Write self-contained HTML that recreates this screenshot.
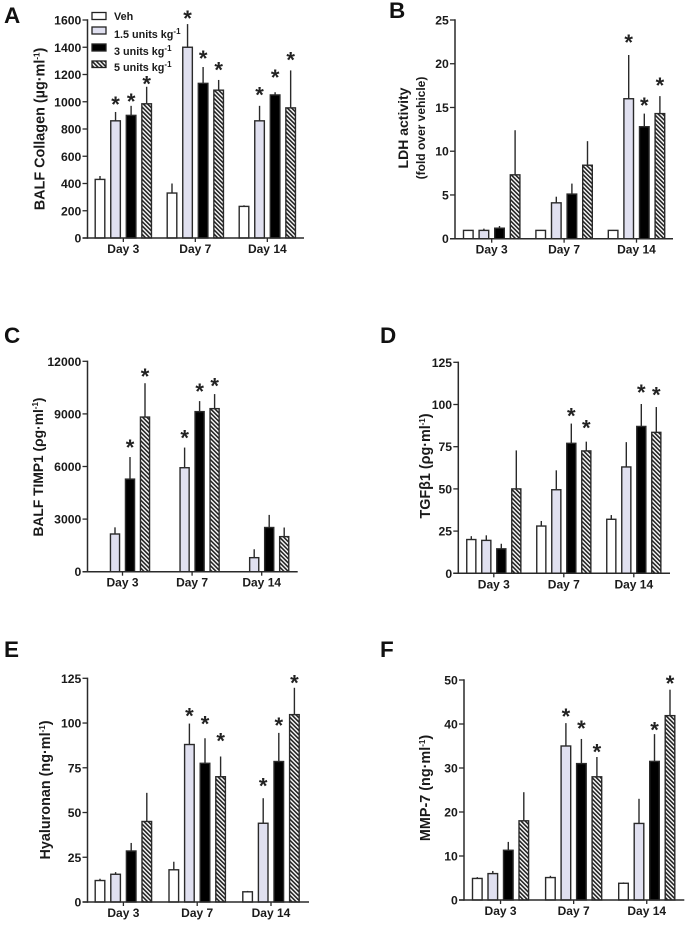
<!DOCTYPE html>
<html lang="en">
<head>
<meta charset="utf-8">
<title>BALF biomarker bar charts</title>
<style>
html,body{margin:0;padding:0;background:#fff;width:691px;height:927px;overflow:hidden}
svg{display:block;font-family:"Liberation Sans",Arial,sans-serif}
text{fill:#1a1a1a}
.tick{font-size:12.2px;font-weight:bold}
.day{font-size:12px;font-weight:bold}
.title{font-size:14.4px;font-weight:bold}
.sub{font-size:12px;font-weight:bold}
.letter{font-size:22.5px;font-weight:bold;fill:#111}
.leg{font-size:10.8px;font-weight:bold}
.sup{font-size:8px}
.star{font-size:22px;font-weight:bold;fill:#222}
</style>
</head>
<body>
<svg id="figure" xmlns="http://www.w3.org/2000/svg" width="691" height="927" viewBox="0 0 691 927">
  <defs>
    <pattern id="hatch" patternUnits="userSpaceOnUse" width="3" height="3" patternTransform="rotate(-45)">
      <rect width="3" height="3" fill="#fff"/>
      <rect width="1.6" height="3" fill="#222"/>
    </pattern>
  </defs>

  <g>
    <text class="letter" x="4" y="23">A</text>
    <text class="letter" x="389" y="18">B</text>
    <text class="letter" x="4" y="343">C</text>
    <text class="letter" x="380" y="343">D</text>
    <text class="letter" x="4" y="657">E</text>
    <text class="letter" x="380" y="657">F</text>
  </g>

  <g>
    <text class="title" text-anchor="middle" transform="translate(44.5,129) rotate(-90)">BALF Collagen (µg·ml<tspan class="sup" dy="-5">-1</tspan><tspan dy="5">)</tspan></text>
    <text class="title" style="font-size:14px" text-anchor="middle" transform="translate(408,128) rotate(-90)">LDH activity</text>
    <text class="sub" text-anchor="middle" transform="translate(425,128) rotate(-90)">(fold over vehicle)</text>
    <text class="title" style="font-size:13.8px" text-anchor="middle" transform="translate(43,467) rotate(-90)">BALF TIMP1 (ρg·ml<tspan class="sup" dy="-5">-1</tspan><tspan dy="5">)</tspan></text>
    <text class="title" text-anchor="middle" textLength="105" transform="translate(430,466) rotate(-90)">TGFβ1 (ρg·ml<tspan class="sup" dy="-5">-1</tspan><tspan dy="5">)</tspan></text>
    <text class="title" text-anchor="middle" transform="translate(50,790) rotate(-90)">Hyaluronan (ng·ml<tspan class="sup" dy="-5">-1</tspan><tspan dy="5">)</tspan></text>
    <text class="title" text-anchor="middle" transform="translate(430,788) rotate(-90)">MMP-7 (ng·ml<tspan class="sup" dy="-5">-1</tspan><tspan dy="5">)</tspan></text>
  </g>

  <g id="legend">
    <g>
      <rect x="92" y="12.5" width="14" height="7" fill="#fff" stroke="#222" stroke-width="1.3"/>
      <text class="leg" x="114" y="20">Veh</text>
    </g>
    <g>
      <rect x="92" y="27" width="14" height="7" fill="#e0e0f0" stroke="#222" stroke-width="1.3"/>
      <text class="leg" x="114" y="38">1.5 units kg<tspan class="sup" dy="-4">-1</tspan></text>
    </g>
    <g>
      <rect x="92" y="44" width="14" height="7" fill="#000" stroke="#222" stroke-width="1.3"/>
      <text class="leg" x="114" y="55">3 units kg<tspan class="sup" dy="-4">-1</tspan></text>
    </g>
    <g>
      <rect x="92" y="61" width="14" height="6.5" fill="url(#hatch)" stroke="#222" stroke-width="1.3"/>
      <text class="leg" x="114" y="71">5 units kg<tspan class="sup" dy="-4">-1</tspan></text>
    </g>
  </g>
</svg>

<script>
// Shared categories
const categories = ['Day 3', 'Day 7', 'Day 14'];
const seriesNames = ['veh', '1-5-units', '3-units', '5-units'];

// Panel A: BALF collagen
const ticksA = [0, 200, 400, 600, 800, 1000, 1200, 1400, 1600];
const meansA = [[430, 860, 900, 985], [330, 1400, 1135, 1085], [232, 860, 1050, 955]];
const errTopsA = [[455, 925, 970, 1110], [400, 1570, 1255, 1160], [240, 970, 1070, 1230]];
const starsA = [[null, 1000, 1020, 1147], [null, 1629, 1336, 1250], [null, 1067, 1196, 1326]];

// Panel B: LDH activity
const ticksB = [0, 5, 10, 15, 20, 25];
const meansB = [[0.95, 0.95, 1.2, 7.3], [0.95, 4.1, 5.1, 8.4], [0.95, 16, 12.8, 14.3]];
const errTopsB = [[1, 1.15, 1.45, 12.4], [1, 4.8, 6.3, 11.15], [1, 21, 14.3, 16.3]];
const starsB = [[null, null, null, null], [null, null, null, null], [null, 22.7, 15.5, 17.8]];

// Panel C: BALF TIMP1 (no vehicle bars)
const ticksC = [0, 3000, 6000, 9000, 12000];
const meansC = [[null, 2150, 5280, 8820], [null, 5930, 9130, 9300], [null, 800, 2520, 2000]];
const errTopsC = [[null, 2530, 6540, 10750], [null, 7080, 9730, 10130], [null, 1280, 3240, 2520]];
const starsC = [[null, null, 7227, 11277], [null, 7760, 10420, 10745], [null, null, null, null]];

// Panel D: TGF-beta 1
const ticksD = [0, 25, 50, 75, 100, 125];
const meansD = [[20, 19.5, 14.5, 50], [28, 49.5, 77, 72.5], [32, 63, 87, 83.5]];
const errTopsD = [[22, 22.5, 17.5, 72.8], [31, 61, 88.7, 78], [34.5, 77.7, 100.3, 98.5]];
const starsD = [[null, null, null, null], [null, null, 94.8, 87.5], [null, null, 108.6, 107.2]];

// Panel E: Hyaluronan
const ticksE = [0, 25, 50, 75, 100, 125];
const meansE = [[12, 15.5, 28.5, 45], [18, 88, 77.5, 70], [5.7, 44, 78.5, 104.7]];
const errTopsE = [[13, 16.7, 33, 61], [22.5, 99.7, 91.5, 81.3], [6.2, 58, 94.5, 119.7]];
const starsE = [[null, null, null, null], [null, 105.4, 100.8, 91.3], [null, 66.3, 99.9, 123.7]];

// Panel F: MMP-7
const ticksF = [0, 10, 20, 30, 40, 50];
const meansF = [[4.9, 6, 11.3, 18], [5.1, 35, 31, 28], [3.8, 17.4, 31.5, 41.9]];
const errTopsF = [[5.2, 6.6, 13.2, 24.5], [5.5, 40.2, 36.6, 32.5], [4, 23, 37.7, 47.8]];
const starsF = [[null, null, null, null], [null, 42.3, 39.6, 34.2], [null, null, 39.2, 49.8]];

const NS = 'http://www.w3.org/2000/svg';
const figure = document.getElementById('figure');
const fills = ['#ffffff', '#e0e0f0', '#000000', 'url(#hatch)'];

function make(parent, tag, attrs, text) {
  const el = document.createElementNS(NS, tag);
  for (const k in attrs) el.setAttribute(k, attrs[k]);
  if (text !== undefined) el.textContent = text;
  parent.appendChild(el);
  return el;
}

function drawPanel(id, frame, ticks, means, errTops, stars) {
  const yMax = ticks[ticks.length - 1];
  const yScale = v => frame.base - (v / yMax) * (frame.base - frame.top);
  const barX = (g, s) => frame.first + g * frame.group + s * frame.step;
  const groupX = g => frame.first + g * frame.group + 1.5 * frame.step;

  const panel = make(figure, 'g', {});
  
  

  means.forEach((row, g) => {
    row.forEach((value, s) => {
      if (value === null) return;
      const cx = barX(g, s);
      const top = yScale(errTops[g][s]);
      const err = make(panel, 'line', {x1: cx, x2: cx, y1: yScale(value), y2: top, stroke: '#2a2a2a', 'stroke-width': 1.4});
      
      
      const bar = make(panel, 'rect', {
        x: cx - frame.width / 2 + 0.7,
        y: yScale(value),
        width: frame.width - 1.4,
        height: Math.max(0, frame.base - yScale(value)),
        fill: fills[s],
        stroke: '#2a2a2a',
        'stroke-width': 1.4
      });
      
      
      const starValue = stars[g][s];
      if (starValue !== null) {
        const star = make(panel, 'text', {class: 'star', x: cx, y: yScale(starValue) + 10, 'text-anchor': 'middle'}, '*');
        
        
      }
    });
  });

  const yAxis = make(panel, 'line', {x1: frame.axis, x2: frame.axis, y1: frame.top - 0.7, y2: frame.base + 0.7, stroke: '#2a2a2a', 'stroke-width': 1.5});
  
  
  const xAxis = make(panel, 'line', {x1: frame.axis - 5, x2: frame.end, y1: frame.base, y2: frame.base, stroke: '#2a2a2a', 'stroke-width': 1.5});
  
  

  ticks.forEach(t => {
    const y = yScale(t);
    const mark = make(panel, 'line', {x1: frame.axis - 5, x2: frame.axis, y1: y, y2: y, stroke: '#2a2a2a', 'stroke-width': 1.3});
    
    
    const label = make(panel, 'text', {class: 'tick', x: frame.axis - 6.2, y: y + 4.5, 'text-anchor': 'end'}, String(t));
    
    
  });

  categories.forEach((name, g) => {
    const x = groupX(g);
    const mark = make(panel, 'line', {x1: x, x2: x, y1: frame.base, y2: frame.base + 4, stroke: '#2a2a2a', 'stroke-width': 1.3});
    
    
    const label = make(panel, 'text', {class: 'day', x: x, y: frame.base + 15, 'text-anchor': 'middle'}, name);
    
    
  });
}

drawPanel('a', {axis: 87.5, end: 304, top: 20, base: 238, first: 100, step: 15.55, group: 72, width: 11}, ticksA, meansA, errTopsA, starsA);
drawPanel('b', {axis: 455, end: 673, top: 20, base: 238.7, first: 468.3, step: 15.6, group: 72.4, width: 11}, ticksB, meansB, errTopsB, starsB);
drawPanel('c', {axis: 87.5, end: 297.7, top: 361.3, base: 571.7, first: 100, step: 15, group: 69.6, width: 10.5}, ticksC, meansC, errTopsC, starsC);
drawPanel('d', {axis: 458.3, end: 670, top: 362.3, base: 573.3, first: 471.3, step: 15, group: 70, width: 10.5}, ticksD, meansD, errTopsD, starsD);
drawPanel('e', {axis: 87.5, end: 309, top: 678.3, base: 902, first: 100, step: 15.6, group: 73.8, width: 11}, ticksE, meansE, errTopsE, starsE);
drawPanel('f', {axis: 464, end: 684.3, top: 680, base: 900, first: 477.3, step: 15.5, group: 73.1, width: 11}, ticksF, meansF, errTopsF, starsF);
</script>
</body>
</html>
